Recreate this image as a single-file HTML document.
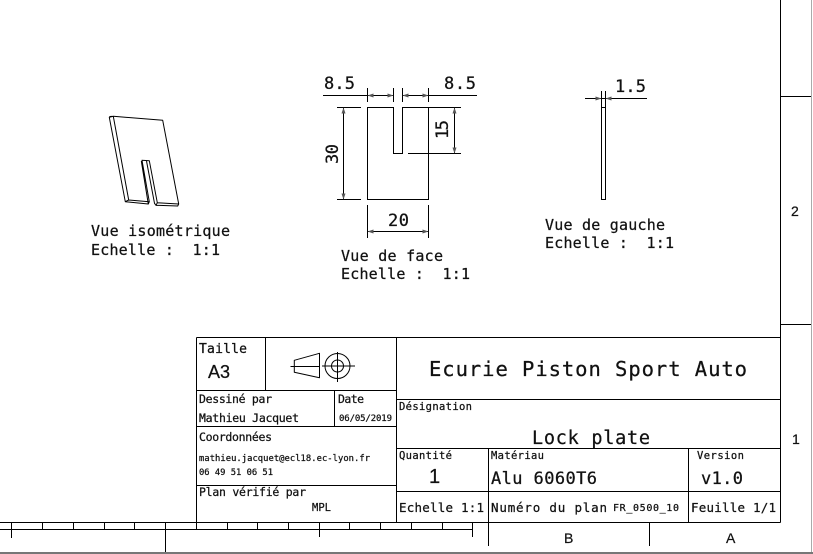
<!DOCTYPE html>
<html lang="fr">
<head>
<meta charset="utf-8">
<title>Lock plate</title>
<style>
html,body{margin:0;padding:0;background:#fff;width:813px;height:554px;overflow:hidden}
svg{display:block}
text{font-family:"DejaVu Sans Mono","Liberation Mono",monospace;fill:#111;stroke:#111;stroke-width:.25;white-space:pre}
.l{stroke:#000;stroke-width:1;fill:none;shape-rendering:crispEdges}
.t{stroke:#000;stroke-width:1;fill:none;stroke-linejoin:round}
.a{fill:#555;stroke:none}
.sans{font-family:"Liberation Sans",sans-serif}
</style>
</head>
<body>
<svg xmlns="http://www.w3.org/2000/svg" width="813" height="554" viewBox="0 0 813 554">
<rect x="0" y="0" width="813" height="554" fill="#fff"/>
<rect x="811" y="0" width="1" height="552" fill="#aaa"/>
<rect x="0" y="552" width="813" height="2" fill="#777"/>

<g>
<path class="l" d="M780.5 0V522.5M781 96.5H811M781 324.5H811"/>
<path class="l" d="M0 522.5H780.5M0 529.5H472.5"/>
<path class="l" d="M11.5 522V538M42.5 522V529M73.5 522V529M104.5 522V529M134.5 522V529M165.5 522V552M196.5 522V529M227.5 522V529M257.5 522V529M288.5 522V529M319.5 522V537M349.5 522V529M380.5 522V529M411.5 522V529M442.5 522V529M472.5 522V537M488.5 522V546M649.5 522V546"/>
<text x="791" y="216" font-size="14" class="sans">2</text>
<text x="792" y="444" font-size="14" class="sans">1</text>
<text x="564" y="543" font-size="14" class="sans">B</text>
<text x="726" y="543" font-size="14" class="sans">A</text>
</g>

<g>
<path class="t" d="M113.3 116.3L162.7 120.3L178.7 204L157.3 202.7L149.3 160.7L142 160.3L149.3 201.7L128.7 200L113.3 116.3ZM113.3 116.3L109.3 117.3L125.3 201.7L148.3 204L149.3 201.7M125.3 201.7L128.7 200M109.3 117.3L110 116.5L113.3 116.3M141.3 161L148.3 204M142 160.3L142.5 160M146.5 161L154.5 203.3L156 205.3L157.3 202.7M156 205.3L177.7 206L178.7 204"/>
<text x="91" y="236" font-size="15" textLength="139" lengthAdjust="spacing">Vue isométrique</text>
<text x="91" y="255" font-size="15" textLength="129" lengthAdjust="spacing">Echelle :  1:1</text>
</g>

<g>
<path class="l" d="M367.5 107.5H393.5V153.5H402.5V107.5H428.5V199.5H367.5Z"/>
<path class="l" d="M323 95.5H393.5M402.5 95.5H477M367.5 88V102M393.5 88V102M402.5 88V102M428.5 88V102M337 107.5H361M337 199.5H361M343.5 107.5V199.5M428.5 107.5H461M408 153.5H461M454.5 107.5V153.5M367.5 205V238M428.5 205V238M367.5 231.5H428.5"/>
<path class="a" d="M367.5 95.5l6-2v4zM393.5 95.5l-6-2v4zM402.5 95.5l6-2v4zM428.5 95.5l-6-2v4zM343.5 107.5l-2 6h4zM343.5 199.5l-2-6h4zM454.5 107.5l-2 6h4zM454.5 153.5l-2-6h4zM367.5 231.5l6-2v4zM428.5 231.5l-6-2v4z"/>
<text x="324" y="89" font-size="17" textLength="31" lengthAdjust="spacing">8.5</text>
<text x="444" y="89" font-size="17" textLength="32" lengthAdjust="spacing">8.5</text>
<text transform="translate(338 164) rotate(-90)" font-size="17" textLength="20" lengthAdjust="spacing">30</text>
<text transform="translate(448 139) rotate(-90)" font-size="17" textLength="19" lengthAdjust="spacing">15</text>
<text x="388" y="226" font-size="17" textLength="21" lengthAdjust="spacing">20</text>
<text x="341" y="261" font-size="15" textLength="102" lengthAdjust="spacing">Vue de face</text>
<text x="341" y="279" font-size="15" textLength="129" lengthAdjust="spacing">Echelle :  1:1</text>
</g>

<g>
<path class="l" d="M601.5 107.5H605.5V199.5H601.5Z"/>
<path class="l" d="M585 98.5H647M601.5 91V107M605.5 91V107"/>
<path class="a" d="M601.5 98.5l-6-2v4zM605.5 98.5l6-2v4z"/>
<text x="615" y="92" font-size="17" textLength="31" lengthAdjust="spacing">1.5</text>
<text x="545" y="230" font-size="15" textLength="120" lengthAdjust="spacing">Vue de gauche</text>
<text x="545" y="248" font-size="15" textLength="129" lengthAdjust="spacing">Echelle :  1:1</text>
</g>

<g>
<path class="l" d="M196.5 337.5H780.5M196.5 337.5V522.5M396.5 337.5V522.5M265.5 337.5V390.5M196.5 390.5H396.5M334.5 390.5V426.5M196.5 426.5H396.5M196.5 485.5H396.5M396.5 399.5H780.5M396.5 448.5H780.5M396.5 491.5H780.5M488.5 448.5V522.5M688.5 448.5V522.5"/>
<g>
<path class="t" d="M290.5 366.5H320M294.3 360.3L319.5 353.3V377.7L294.3 372.3Z"/>
<circle class="t" cx="337.5" cy="366" r="12.5"/>
<circle class="t" cx="337.5" cy="366" r="6"/>
<path class="t" d="M322 366H355M337.5 352V382"/>
</g>
<text x="199" y="353" font-size="13" textLength="48" lengthAdjust="spacing">Taille</text>
<text x="208" y="378" font-size="18" class="sans">A3</text>
<text x="199" y="403" font-size="11.5" textLength="73" lengthAdjust="spacing">Dessiné par</text>
<text x="199" y="422" font-size="11.5" textLength="100" lengthAdjust="spacing">Mathieu Jacquet</text>
<text x="338" y="403" font-size="11.5" textLength="26" lengthAdjust="spacing">Date</text>
<text x="339" y="421" font-size="9" textLength="53" lengthAdjust="spacing">06/05/2019</text>
<text x="199" y="441" font-size="11.5" textLength="73" lengthAdjust="spacing">Coordonnées</text>
<text x="199" y="461" font-size="8.8" textLength="171" lengthAdjust="spacing">mathieu.jacquet@ecl18.ec-lyon.fr</text>
<text x="199" y="475" font-size="8.8" textLength="74" lengthAdjust="spacing">06 49 51 06 51</text>
<text x="199" y="496" font-size="11.5" textLength="107" lengthAdjust="spacing">Plan vérifié par</text>
<text x="312" y="511" font-size="10.5" textLength="19" lengthAdjust="spacing">MPL</text>
<text x="429" y="376" font-size="20.5" textLength="318" lengthAdjust="spacing">Ecurie Piston Sport Auto</text>
<text x="399" y="410" font-size="10.5" textLength="73" lengthAdjust="spacing">Désignation</text>
<text x="532" y="444" font-size="18.5" textLength="118" lengthAdjust="spacing">Lock plate</text>
<text x="399" y="459" font-size="10.5" textLength="53" lengthAdjust="spacing">Quantité</text>
<text x="429" y="483" font-size="20" class="sans">1</text>
<text x="491" y="459" font-size="10.5" textLength="53" lengthAdjust="spacing">Matériau</text>
<text x="491" y="484" font-size="17" textLength="106" lengthAdjust="spacing">Alu 6060T6</text>
<text x="697" y="459" font-size="10.5" textLength="47" lengthAdjust="spacing">Version</text>
<text x="701" y="484" font-size="17" textLength="42" lengthAdjust="spacing">v1.0</text>
<text x="399" y="512" font-size="12.5" textLength="85" lengthAdjust="spacing">Echelle 1:1</text>
<text x="491" y="512" font-size="12.5" textLength="116" lengthAdjust="spacing">Numéro du plan</text>
<text x="613" y="511" font-size="10" textLength="66" lengthAdjust="spacing">FR_0500_10</text>
<text x="691" y="512" font-size="12.5" textLength="85" lengthAdjust="spacing">Feuille 1/1</text>
</g>
</svg>
</body>
</html>
